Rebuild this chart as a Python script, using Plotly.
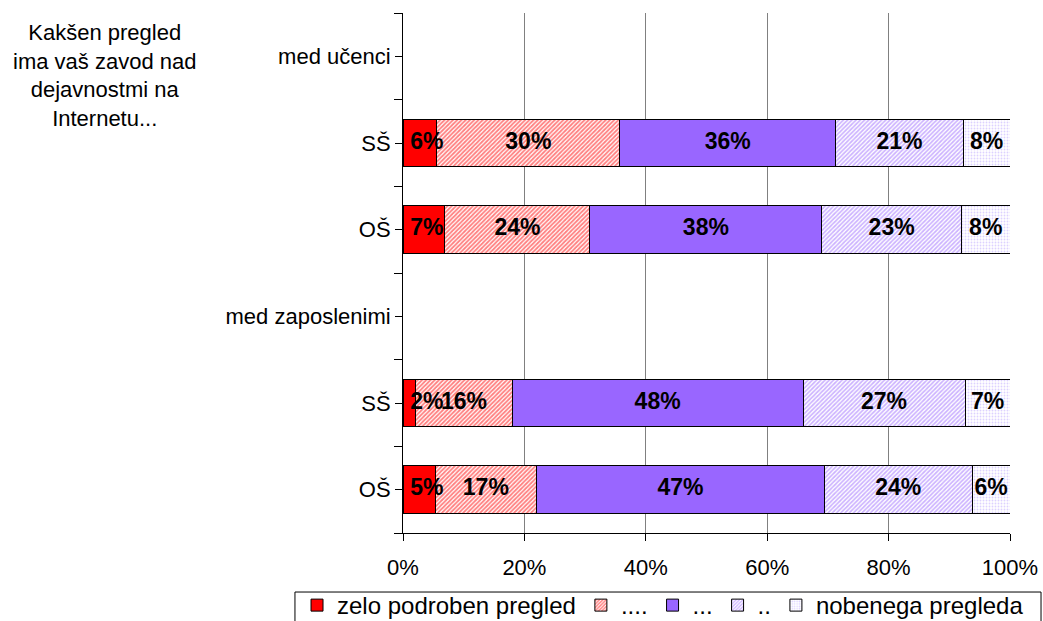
import plotly.graph_objects as go

# Rows from top to bottom (group headers carry no bars)
row_labels = ["med učenci", "SŠ", "OŠ", "med zaposlenimi", "SŠ", "OŠ"]
row_pos = [5, 4, 3, 2, 1, 0]

series_names = ["zelo podroben pregled", "....", "...", "..", "nobenega pregleda"]

# Shares in percent for each row (None = header row)
s_zelo = [None, 5.6, 6.9, None, 2.1, 5.3]
s_4dot = [None, 30.1, 23.9, None, 15.9, 16.7]
s_3dot = [None, 35.6, 38.2, None, 47.9, 47.4]
s_2dot = [None, 21.0, 23.0, None, 26.7, 24.4]
s_nobenega = [None, 7.7, 8.0, None, 7.4, 6.2]

x_ticks = [0, 20, 40, 60, 80, 100]
x_ticktext = ["0%", "20%", "40%", "60%", "80%", "100%"]

FONT = "Liberation Sans, Arial, sans-serif"

styles = [
    dict(color="#FF0000"),
    dict(color="#FF0000", pattern=dict(shape="/", fgcolor="#FF0000", bgcolor="#FFFFFF",
                                       size=3, solidity=0.6)),
    dict(color="#9966FF"),
    dict(color="#9966FF", pattern=dict(shape="/", fgcolor="#9966FF", bgcolor="#FFFFFF",
                                       size=3, solidity=0.55)),
    dict(color="#FFFFFF", pattern=dict(shape=".", fgcolor="#B9A3FF", bgcolor="#FFFFFF",
                                       size=3, solidity=0.3)),
]

all_series = [s_zelo, s_4dot, s_3dot, s_2dot, s_nobenega]

fig = go.Figure()
for name, vals, st in zip(series_names, all_series, styles):
    fig.add_trace(go.Bar(
        name=name,
        x=vals,
        y=row_pos,
        orientation="h",
        width=0.55,
        marker=dict(**st, line=dict(color="#000000", width=1)),
        hoverinfo="skip",
    ))

# Value labels: centred in each segment; the first segment's label starts at the bar origin
start = [0.0] * len(row_pos)
for k, vals in enumerate(all_series):
    xs, ys, txt = [], [], []
    for i, v in enumerate(vals):
        if v is None:
            continue
        xs.append(start[i] if k == 0 else start[i] + v / 2)
        ys.append(row_pos[i])
        txt.append(f"{v:.0f}%")
        start[i] += v
    fig.add_trace(go.Scatter(
        x=xs, y=ys, text=txt, mode="markers+text",
        marker=dict(size=10, opacity=0),
        textposition="middle right" if k == 0 else "middle center",
        textfont=dict(family=FONT, size=23, color="#000000", weight="bold"),
        showlegend=False, hoverinfo="skip", cliponaxis=False,
    ))

fig.update_layout(
    barmode="stack",
    width=1043, height=621,
    margin=dict(l=403, r=33, t=13, b=88, autoexpand=False),
    paper_bgcolor="#FFFFFF", plot_bgcolor="#FFFFFF",
    font=dict(family=FONT, size=22, color="#000000"),
    showlegend=True,
    legend=dict(
        orientation="h",
        x=-0.1746, xanchor="left",
        y=-0.0962, yanchor="top",
        bgcolor="rgba(0,0,0,0)", borderwidth=0,
        font=dict(family=FONT, size=24, color="#000000"),
        traceorder="normal",
        itemwidth=30,
        tracegroupgap=0,
    ),
    # legend frame
    shapes=[dict(
        type="rect", xref="paper", yref="paper",
        x0=-0.178, x1=1.0511, y0=-0.1135, y1=-0.3,
        line=dict(color="#000000", width=1), fillcolor="rgba(0,0,0,0)",
        layer="above",
    )],
    xaxis=dict(
        range=[0, 100],
        tickvals=x_ticks, ticktext=x_ticktext,
        showgrid=True, gridcolor="#808080", gridwidth=1,
        zeroline=False,
        showline=True, linecolor="#000000", linewidth=1,
        ticks="outside", ticklen=7, tickcolor="#000000",
        ticklabelstandoff=8,
        tickfont=dict(size=22),
        fixedrange=True,
    ),
    yaxis=dict(
        range=[-0.5, 5.5],
        tickvals=row_pos, ticktext=row_labels,
        showgrid=False, zeroline=False,
        showline=True, linecolor="#000000", linewidth=1,
        ticks="outside", ticklen=7, tickcolor="#000000",
        minor=dict(tickvals=[-0.5, 0.5, 1.5, 2.5, 3.5, 4.5, 5.5],
                   ticks="outside", ticklen=8, tickcolor="#000000", showgrid=False),
        tickfont=dict(size=22),
        fixedrange=True,
    ),
    annotations=[dict(
        text="Kakšen pregled<br>ima vaš zavod nad<br>dejavnostmi na<br>Internetu...",
        xref="paper", yref="paper",
        x=-0.491, y=0.99, xanchor="center", yanchor="top",
        showarrow=False, align="center",
        font=dict(family=FONT, size=22, color="#000000"),
    )],
)

fig.write_html("out.html")
